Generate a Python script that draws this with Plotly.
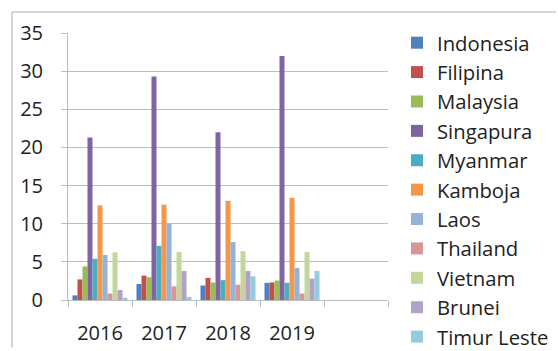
import plotly.graph_objects as go

# Categories on the x axis (a fifth, empty slot is kept on the right)
years = ["2016", "2017", "2018", "2019"]

# One value per year for each country
indonesia = [0.6, 2.1, 1.9, 2.25]
filipina = [2.7, 3.2, 2.9, 2.3]
malaysia = [4.4, 3.0, 2.3, 2.55]
singapura = [21.3, 29.3, 22.0, 32.0]
myanmar = [5.4, 7.1, 2.6, 2.25]
kamboja = [12.4, 12.5, 13.0, 13.4]
laos = [5.9, 10.0, 7.6, 4.2]
thailand = [0.85, 1.8, 2.0, 0.85]
vietnam = [6.25, 6.3, 6.4, 6.3]
brunei = [1.3, 3.8, 3.8, 2.8]
timur_leste = [0.3, 0.4, 3.1, 3.8]

series = [
    ("Indonesia", indonesia, "#4F81BD"),
    ("Filipina", filipina, "#C0504D"),
    ("Malaysia", malaysia, "#9BBB59"),
    ("Singapura", singapura, "#8064A2"),
    ("Myanmar", myanmar, "#4BACC6"),
    ("Kamboja", kamboja, "#F79646"),
    ("Laos", laos, "#95B3D7"),
    ("Thailand", thailand, "#D99694"),
    ("Vietnam", vietnam, "#C3D69B"),
    ("Brunei", brunei, "#B3A2C7"),
    ("Timur Leste", timur_leste, "#93CDDD"),
]

x_pos = list(range(len(years)))

fig = go.Figure()
for name, vals, color in series:
    fig.add_trace(go.Bar(x=x_pos, y=vals, name=name,
                         marker=dict(color=color, line=dict(width=0))))

FONT = "Open Sans, Arial, sans-serif"
GRID = "#BDBDBD"
W, H = 558, 351
ML, MR, MT, MB = 68, 170, 33, 50.5
pw, ph = W - ML - MR, H - MT - MB


def px_x(px):
    return (px - ML) / pw


def px_y(py):
    return (H - MB - py) / ph


fig.update_layout(
    width=W, height=H,
    margin=dict(l=ML, r=MR, t=MT, b=MB, autoexpand=False),
    paper_bgcolor="white", plot_bgcolor="white",
    barmode="group", bargap=0.14, bargroupgap=0,
    font=dict(family=FONT, size=20, color="#222222"),
    showlegend=True,
    legend=dict(
        xref="paper", x=px_x(397), xanchor="left",
        yref="container", y=1 - 23 / H, yanchor="top",
        maxheight=1,
        font=dict(family=FONT, size=20.3, color="#222222"),
        bgcolor="rgba(0,0,0,0)", itemwidth=30, tracegroupgap=0,
    ),
    xaxis=dict(
        range=[-0.5, 4.5],
        tickmode="array", tickvals=x_pos, ticktext=years,
        ticks="", showgrid=False,
        showline=True, linecolor=GRID, linewidth=1,
        tickfont=dict(family=FONT, size=20, color="#222222"),
        ticklabelstandoff=15,
        minor=dict(tick0=-0.5, dtick=1, ticks="outside", ticklen=6,
                   tickcolor=GRID, tickwidth=1, showgrid=False),
        zeroline=False, fixedrange=True,
    ),
    yaxis=dict(
        range=[0, 35], tickmode="linear", tick0=0, dtick=5,
        ticks="outside", ticklen=6, tickcolor=GRID, tickwidth=1,
        showgrid=True, gridcolor=GRID, gridwidth=1,
        showline=True, linecolor=GRID, linewidth=1,
        zeroline=False,
        tickfont=dict(family=FONT, size=20, color="#222222"),
        ticklabelstandoff=14, fixedrange=True,
    ),
    shapes=[
        # chart frame: top and left edges
        dict(type="line", xref="paper", yref="paper",
             x0=px_x(12), x1=px_x(556), y0=px_y(12), y1=px_y(12),
             line=dict(color="#C8C8C8", width=1.5)),
        dict(type="line", xref="paper", yref="paper",
             x0=px_x(12), x1=px_x(12), y0=px_y(12), y1=px_y(348),
             line=dict(color="#C8C8C8", width=1.5)),
    ],
)

fig.write_html("out.html")
